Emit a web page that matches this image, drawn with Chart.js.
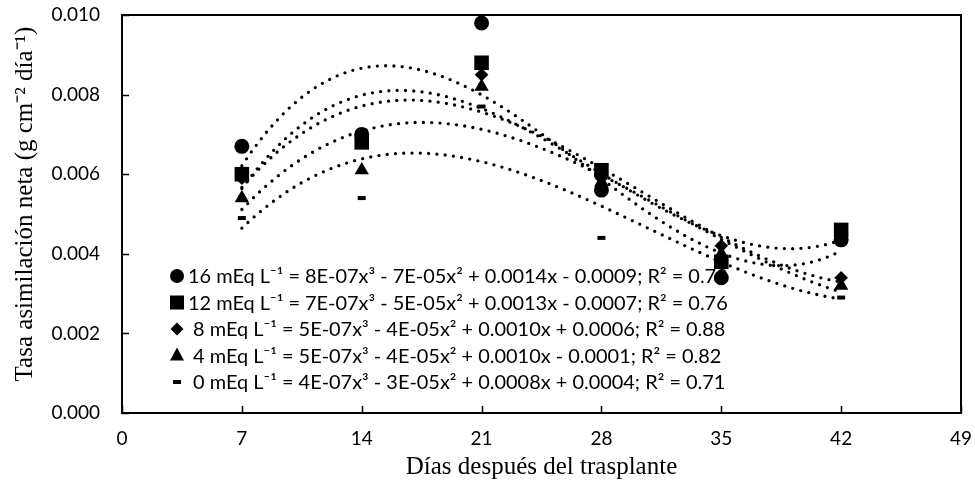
<!DOCTYPE html>
<html>
<head>
<meta charset="utf-8">
<script src="https://cdn.jsdelivr.net/npm/chart.js@4.4.1/dist/chart.umd.min.js"></script>
<style>
  html, body { margin: 0; padding: 0; background: #fff; }
  #wrap { width: 975px; height: 481px; }
</style>
</head>
<body>
<div id="wrap"><canvas id="chart"></canvas></div>
<script>
// days after transplant
var days = [7, 14, 21, 28, 35, 42];

// net assimilation rate per treatment (g cm-2 dia-1)
var trat16 = [0.0067, 0.0070, 0.0098, 0.0056, 0.0034, 0.00435];
var trat12 = [0.0060, 0.0068, 0.0088, 0.0061, 0.0038, 0.0046];
var trat8 = [0.0059, 0.0069, 0.0085, 0.0059, 0.0042, 0.0034];
var trat4 = [0.0054, 0.0061, 0.0082, 0.0058, 0.0040, 0.0032];
var trat0 = [0.0049, 0.0054, 0.0077, 0.0044, 0.0039, 0.0029];

var xTicks = [0, 7, 14, 21, 28, 35, 42, 49];
var yTicks = [0, 0.002, 0.004, 0.006, 0.008, 0.010];

var legendLines = [
  '16 mEq L⁻¹ = 8E-07x³ - 7E-05x² + 0.0014x - 0.0009; R² = 0.72',
  '12 mEq L⁻¹ = 7E-07x³ - 5E-05x² + 0.0013x - 0.0007; R² = 0.76',
  ' 8 mEq L⁻¹ = 5E-07x³ - 4E-05x² + 0.0010x + 0.0006; R² = 0.88',
  ' 4 mEq L⁻¹ = 5E-07x³ - 4E-05x² + 0.0010x - 0.0001; R² = 0.82',
  ' 0 mEq L⁻¹ = 4E-07x³ - 3E-05x² + 0.0008x + 0.0004; R² = 0.71'
];
var yTitle = 'Tasa asimilación neta (g cm⁻² día⁻¹)';
var xTitle = 'Días después del trasplante';

var tickFont = 'Lato';
var serif = '"Liberation Serif", "Times New Roman", serif';

function toPoints(ys) {
  return days.map(function (d, i) { return { x: d, y: ys[i] }; });
}

// least squares cubic, like the spreadsheet trendline
function fitCubic(xs, ys) {
  var A = [], b = [];
  for (var i = 0; i < 4; i++) {
    A[i] = [];
    for (var j = 0; j < 4; j++) {
      A[i][j] = xs.reduce(function (s, x) { return s + Math.pow(x, i + j); }, 0);
    }
    b[i] = xs.reduce(function (s, x, k) { return s + ys[k] * Math.pow(x, i); }, 0);
  }
  for (var c = 0; c < 4; c++) {
    for (var r = c + 1; r < 4; r++) {
      var f = A[r][c] / A[c][c];
      for (var k = c; k < 4; k++) A[r][k] -= f * A[c][k];
      b[r] -= f * b[c];
    }
  }
  var coef = [0, 0, 0, 0];
  for (var r2 = 3; r2 >= 0; r2--) {
    var s = b[r2];
    for (var k2 = r2 + 1; k2 < 4; k2++) s -= A[r2][k2] * coef[k2];
    coef[r2] = s / A[r2][r2];
  }
  return coef;
}

function trend(ys) {
  var c = fitCubic(days, ys);
  var pts = [];
  for (var x = days[0]; x <= days[days.length - 1] + 0.001; x += 0.5) {
    pts.push({ x: x, y: c[0] + c[1] * x + c[2] * x * x + c[3] * x * x * x });
  }
  return pts;
}

function trendSet(ys) {
  return {
    type: 'line',
    data: trend(ys),
    borderColor: '#000',
    borderWidth: 3.3,
    borderDash: [0, 8.3],
    borderCapStyle: 'round',
    pointRadius: 0,
    fill: false,
    tension: 0,
    order: 10
  };
}

function pointSet(ys, style, radius, order) {
  return {
    type: 'scatter',
    data: toPoints(ys),
    pointStyle: style,
    pointRadius: radius,
    pointHoverRadius: radius,
    backgroundColor: '#000',
    borderColor: '#000',
    borderWidth: style === 'line' ? 4 : 0,
    order: order
  };
}

function marker(ctx, style, x, y) {
  ctx.beginPath();
  if (style === 'circle') {
    ctx.arc(x, y, 7, 0, Math.PI * 2);
    ctx.fill();
  } else if (style === 'rect') {
    ctx.fillRect(x - 7, y - 7, 14, 14);
  } else if (style === 'rectRot') {
    ctx.moveTo(x, y - 6.5); ctx.lineTo(x + 6.5, y); ctx.lineTo(x, y + 6.5); ctx.lineTo(x - 6.5, y);
    ctx.closePath(); ctx.fill();
  } else if (style === 'triangle') {
    ctx.moveTo(x, y - 8); ctx.lineTo(x + 7, y + 5); ctx.lineTo(x - 7, y + 5);
    ctx.closePath(); ctx.fill();
  } else {
    ctx.fillRect(x - 4, y - 2, 8, 4);
  }
}

var markerStyles = ['circle', 'rect', 'rectRot', 'triangle', 'line'];

var framePlugin = {
  id: 'frame',
  afterDraw: function (chart) {
    var ctx = chart.ctx, a = chart.chartArea;
    var xs = chart.scales.x, ys = chart.scales.y;
    ctx.save();
    ctx.strokeStyle = '#000';
    ctx.lineWidth = 2;
    ctx.strokeRect(a.left, a.top, a.right - a.left, a.bottom - a.top);
    ctx.lineWidth = 1.5;
    ctx.beginPath();
    xTicks.forEach(function (v) {
      var px = Math.round(xs.getPixelForValue(v)) + 0.5;
      ctx.moveTo(px, a.bottom); ctx.lineTo(px, a.bottom - 7);
    });
    yTicks.forEach(function (v) {
      var py = Math.round(ys.getPixelForValue(v)) + 0.5;
      ctx.moveTo(a.left, py); ctx.lineTo(a.left + 7, py);
    });
    ctx.stroke();

    // y title, sitting a bit above the middle like the original
    ctx.fillStyle = '#000';
    ctx.save();
    ctx.translate(25, 204);
    ctx.rotate(-Math.PI / 2);
    ctx.font = '25px ' + serif;
    ctx.textAlign = 'center';
    ctx.textBaseline = 'middle';
    ctx.fillText(yTitle, 0, 0);
    ctx.restore();

    // legend inside plot
    var size = 20;
    ctx.font = size + 'px ' + tickFont;
    var w = ctx.measureText(legendLines[0]).width;
    size = size * 540 / w;
    ctx.font = size.toFixed(2) + 'px ' + tickFont;
    ctx.textBaseline = 'middle';
    ctx.textAlign = 'left';
    legendLines.forEach(function (t, i) {
      var y = 276 + i * 26.5;
      marker(ctx, markerStyles[i], 177, y);
      ctx.fillText(t, 188, y + 1);
    });
    ctx.restore();
  }
};

new Chart(document.getElementById('chart'), {
  type: 'scatter',
  data: {
    datasets: [
      pointSet(trat16, 'circle', 7.5, 5),
      pointSet(trat12, 'rect', 10.3, 4),
      pointSet(trat8, 'rectRot', 6.8, 3),
      pointSet(trat4, 'triangle', 8.3, 2),
      pointSet(trat0, 'line', 4, 1),
      trendSet(trat16),
      trendSet(trat12),
      trendSet(trat8),
      trendSet(trat4),
      trendSet(trat0)
    ]
  },
  options: {
    responsive: true,
    maintainAspectRatio: false,
    animation: false,
    events: [],
    layout: { padding: { top: 15, right: 14, left: 0, bottom: 0 } },
    plugins: {
      legend: { display: false },
      tooltip: { enabled: false }
    },
    scales: {
      x: {
        type: 'linear',
        min: 0,
        max: 49,
        afterFit: function (s) { s.height = 68; s.paddingLeft = 0; s.paddingRight = 0; },
        afterBuildTicks: function (s) { s.ticks = xTicks.map(function (v) { return { value: v }; }); },
        grid: { display: false, drawTicks: false },
        border: { display: false },
        ticks: {
          padding: 14,
          color: '#000',
          font: { family: tickFont, size: 19 },
          maxRotation: 0
        },
        title: {
          display: true,
          text: xTitle,
          color: '#000',
          font: { family: serif, size: 25, lineHeight: 1.1 },
          padding: { top: 1, bottom: 0 }
        }
      },
      y: {
        type: 'linear',
        min: 0,
        max: 0.010,
        afterFit: function (s) { s.width = 122; s.paddingTop = 0; s.paddingBottom = 0; },
        afterBuildTicks: function (s) { s.ticks = yTicks.map(function (v) { return { value: v }; }); },
        grid: { display: false, drawTicks: false },
        border: { display: false },
        ticks: {
          padding: 22,
          color: '#000',
          font: { family: tickFont, size: 19 },
          callback: function (v) { return v.toFixed(3); }
        },
        title: { display: false }
      }
    }
  },
  plugins: [framePlugin]
});
</script>
</body>
</html>
